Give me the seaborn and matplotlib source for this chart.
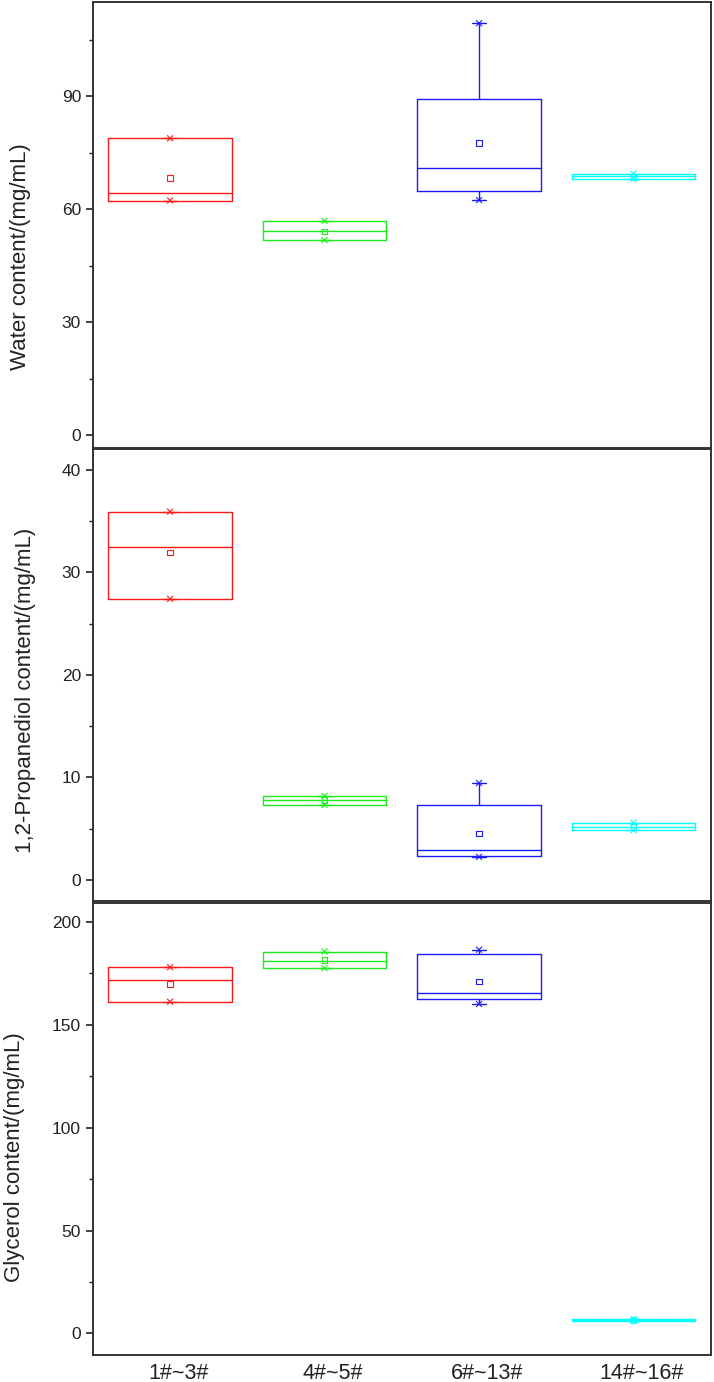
import numpy as np
import pandas as pd
import matplotlib
matplotlib.use("Agg")
import matplotlib.pyplot as plt
import matplotlib.transforms as mtrans
import seaborn as sns

# groups on the shared x axis
groups = ["1#~3#", "4#~5#", "6#~13#", "14#~16#"]
colors = ["#ff1a1a", "#1aee1a", "#1a1aff", "#00ffff"]

# box statistics (min, q1, median, q3, max, mean)
water_min = [62.3, 51.8, 62.4, 68.1]
water_q1 = [62.3, 51.8, 64.9, 68.1]
water_med = [64.3, 54.2, 71.0, 68.8]
water_q3 = [78.8, 56.9, 89.1, 69.4]
water_max = [78.8, 56.9, 109.3, 69.4]
water_mean = [68.3, 54.1, 77.6, 68.6]

prop_min = [27.4, 7.33, 2.27, 4.86]
prop_q1 = [27.4, 7.33, 2.33, 4.86]
prop_med = [32.5, 7.8, 2.92, 5.22]
prop_q3 = [35.9, 8.2, 7.33, 5.58]
prop_max = [35.9, 8.2, 9.46, 5.58]
prop_mean = [31.9, 7.78, 4.54, 5.15]

gly_min = [161.2, 177.5, 160.1, 6.0]
gly_q1 = [161.2, 177.5, 162.7, 6.0]
gly_med = [171.6, 181.2, 165.3, 6.5]
gly_q3 = [178.0, 185.6, 184.4, 7.0]
gly_max = [178.0, 185.6, 186.5, 7.0]
gly_mean = [169.8, 181.5, 171.1, 6.5]

ylabels = ["Water content/(mg/mL)", "1,2-Propanediol content/(mg/mL)",
           "Glycerol content/(mg/mL)"]

sns.set_style("ticks")
plt.rcParams["font.family"] = ["Liberation Sans", "DejaVu Sans"]

fig = plt.figure(figsize=(7.14, 13.82), dpi=100)

panels = [
    dict(stats=(water_min, water_q1, water_med, water_q3, water_max, water_mean),
         rect=[0.130, 0.6758, 0.8655, 0.3229], ylim=(-3.35, 115), major=30,
         label_y=0.43, label_x=-0.10),
    dict(stats=(prop_min, prop_q1, prop_med, prop_q3, prop_max, prop_mean),
         rect=[0.130, 0.3483, 0.8655, 0.3268], ylim=(-2, 42), major=10,
         label_y=0.466, label_x=-0.092),
    dict(stats=(gly_min, gly_q1, gly_med, gly_q3, gly_max, gly_mean),
         rect=[0.130, 0.0195, 0.8655, 0.3271], ylim=(-10.5, 209.2), major=50,
         label_y=0.438, label_x=-0.11),
]

pos = np.arange(len(groups))

for i, p in enumerate(panels):
    ax = fig.add_axes(p["rect"])
    lo, q1, med, q3, hi, mean = p["stats"]
    bstats = [dict(whislo=lo[k], q1=q1[k], med=med[k], q3=q3[k], whishi=hi[k],
                   mean=mean[k], fliers=[], label=groups[k]) for k in range(4)]
    bp = ax.bxp(bstats, positions=pos, widths=0.8, showmeans=False,
                showfliers=False, capwidths=0.085, patch_artist=False)
    for k, c in enumerate(colors):
        bp["boxes"][k].set(color=c, lw=1.0)
        bp["medians"][k].set(color=c, lw=1.0)
        for w in bp["whiskers"][2 * k:2 * k + 2]:
            w.set(color=c, lw=1.0)
        for cp in bp["caps"][2 * k:2 * k + 2]:
            cp.set(color=c, lw=1.0)

    df = pd.DataFrame({"x": pos, "mean": mean, "lo": lo, "hi": hi, "g": groups})
    sns.scatterplot(data=df, x="x", y="mean", hue="g", palette=colors, marker="s",
                    s=16, legend=False, ax=ax, linewidth=0.8)
    ax.collections[-1].set_facecolor("none")
    ax.collections[-1].set_edgecolor(colors)
    for col in ["lo", "hi"]:
        sns.scatterplot(data=df, x="x", y=col, hue="g", palette=colors, marker="x",
                        s=18, legend=False, ax=ax, linewidth=0.8)

    ax.set_xlim(-0.5, 3.5)
    ax.set_ylim(*p["ylim"])
    ax.yaxis.set_major_locator(plt.MultipleLocator(p["major"]))
    ax.yaxis.set_minor_locator(plt.MultipleLocator(p["major"] / 2))
    ax.tick_params(axis="y", which="major", direction="out", length=5, width=1.2,
                   labelsize=12.5, colors="#222222")
    ax.tick_params(axis="y", which="minor", direction="out", length=3, width=1.0,
                   colors="#222222")
    ax.set_xticks(pos)
    if i == 2:
        ax.set_xticklabels(groups, fontsize=15.5)
        ax.tick_params(axis="x", length=0, pad=6, colors="#222222")
        shift = mtrans.ScaledTranslation(8 / 100, 0, fig.dpi_scale_trans)
        for lbl in ax.get_xticklabels():
            lbl.set_transform(lbl.get_transform() + shift)
    else:
        ax.set_xticklabels([])
        ax.tick_params(axis="x", length=0)
    ax.set_xlabel("")
    ax.set_ylabel(ylabels[i], fontsize=16, color="#222222")
    ax.yaxis.set_label_coords(p["label_x"], p["label_y"])
    for s in ax.spines.values():
        s.set_visible(True)
        s.set_color("#333333")
        s.set_linewidth(1.4)

fig.savefig("out.png", dpi=100)
